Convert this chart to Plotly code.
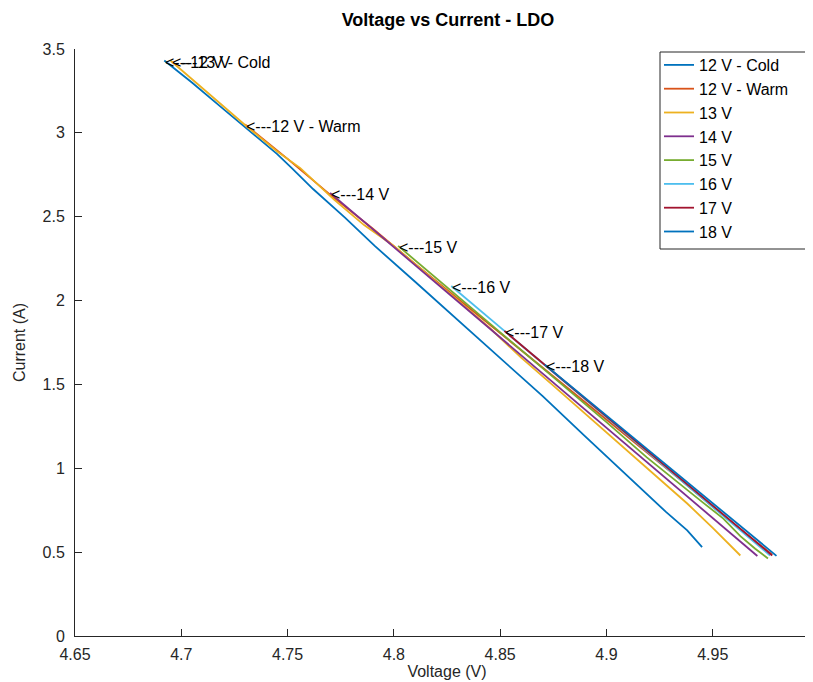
import plotly.graph_objects as go

# ---- data ----
series_names = ["12 V - Cold", "12 V - Warm", "13 V", "14 V", "15 V", "16 V", "17 V", "18 V"]
series_colors = ["#0072BD", "#D95319", "#EDB120", "#7E2F8E", "#77AC30", "#4DBEEE", "#A2142F", "#0072BD"]

v_cold = [4.692, 4.705, 4.720, 4.736, 4.745, 4.752, 4.762, 4.777, 4.791, 4.810, 4.830, 4.850, 4.870, 4.890, 4.901, 4.915, 4.928, 4.938, 4.945]
i_cold = [3.431, 3.300, 3.140, 2.970, 2.875, 2.790, 2.665, 2.495, 2.326, 2.112, 1.885, 1.658, 1.430, 1.190, 1.061, 0.895, 0.740, 0.630, 0.530]

v_warm = [4.730, 4.750, 4.770, 4.790, 4.810, 4.830, 4.850, 4.870, 4.890, 4.910, 4.922, 4.935, 4.950, 4.962, 4.972, 4.978]
i_warm = [3.050, 2.845, 2.632, 2.430, 2.218, 2.012, 1.808, 1.598, 1.392, 1.185, 1.063, 0.930, 0.770, 0.650, 0.545, 0.485]

v_13 = [4.695, 4.712, 4.730, 4.745, 4.756, 4.772, 4.786, 4.800, 4.815, 4.830, 4.845, 4.860, 4.875, 4.890, 4.905, 4.914, 4.925, 4.938, 4.950, 4.958, 4.963]
i_13 = [3.430, 3.244, 3.047, 2.890, 2.790, 2.600, 2.450, 2.326, 2.166, 2.002, 1.838, 1.658, 1.493, 1.327, 1.160, 1.061, 0.935, 0.790, 0.645, 0.545, 0.480]

v_14 = [4.770, 4.790, 4.810, 4.830, 4.850, 4.870, 4.890, 4.905, 4.917, 4.930, 4.942, 4.952, 4.962, 4.968, 4.971]
i_14 = [2.642, 2.427, 2.211, 1.996, 1.780, 1.565, 1.350, 1.188, 1.061, 0.919, 0.790, 0.682, 0.574, 0.510, 0.477]

v_15 = [4.802, 4.820, 4.840, 4.860, 4.880, 4.900, 4.919, 4.932, 4.945, 4.955, 4.963, 4.970, 4.976]
i_15 = [2.326, 2.133, 1.919, 1.704, 1.490, 1.275, 1.065, 0.930, 0.800, 0.700, 0.595, 0.520, 0.462]

v_16 = [4.827, 4.845, 4.865, 4.885, 4.905, 4.922, 4.937, 4.950, 4.962, 4.971, 4.977]
i_16 = [2.087, 1.894, 1.680, 1.466, 1.252, 1.070, 0.909, 0.770, 0.641, 0.545, 0.480]

v_17 = [4.852, 4.870, 4.890, 4.908, 4.923, 4.938, 4.951, 4.963, 4.972, 4.978]
i_17 = [1.819, 1.628, 1.415, 1.224, 1.064, 0.905, 0.767, 0.639, 0.543, 0.480]

v_18 = [4.871, 4.888, 4.905, 4.925, 4.940, 4.953, 4.965, 4.974, 4.980]
i_18 = [1.618, 1.440, 1.262, 1.053, 0.896, 0.760, 0.635, 0.541, 0.478]

voltages = [v_cold, v_warm, v_13, v_14, v_15, v_16, v_17, v_18]
currents = [i_cold, i_warm, i_13, i_14, i_15, i_16, i_17, i_18]

x_tickvals = [4.65, 4.70, 4.75, 4.80, 4.85, 4.90, 4.95, 5.00]
x_ticktext = ["4.65", "4.7", "4.75", "4.8", "4.85", "4.9", "4.95", "5"]
y_tickvals = [0, 0.5, 1, 1.5, 2, 2.5, 3, 3.5]
y_ticktext = ["0", "0.5", "1", "1.5", "2", "2.5", "3", "3.5"]

FONT = "Liberation Sans, Arial, Helvetica, sans-serif"
AXC = "#262626"

# plot area in pixels
L, R, T, B = 67, 811, 41, 628
PW, PH = R - L, B - T


def px_x(p):
    return (p - L) / PW


def px_y(p):
    return (B - p) / PH


fig = go.Figure()
for name, col, vx, iy in zip(series_names, series_colors, voltages, currents):
    fig.add_trace(go.Scatter(x=vx, y=iy, mode="lines", name=name,
                             line=dict(color=col, width=1.8)))

for name, vx, iy in zip(series_names, voltages, currents):
    fig.add_annotation(x=vx[0], y=iy[0], xref="x", yref="y",
                       text="&lt;---" + name, showarrow=False,
                       xanchor="left", yanchor="middle", xshift=-1, yshift=-2,
                       font=dict(family=FONT, size=16, color="#000000"))

# legend frame
fig.add_shape(type="rect", xref="paper", yref="paper",
              x0=px_x(652), x1=px_x(806), y0=px_y(241), y1=px_y(44),
              fillcolor="white", line=dict(color=AXC, width=1), layer="above")

fig.update_layout(
    width=813, height=682,
    margin=dict(l=L, r=813 - R, t=T, b=682 - B, autoexpand=False),
    paper_bgcolor="white", plot_bgcolor="white",
    font=dict(family=FONT, size=16, color=AXC),
    title=dict(text="<b>Voltage vs Current - LDO</b>", x=440 / 813,
               xanchor="center", xref="container", yref="container",
               y=1 - 5 / 682, yanchor="top",
               font=dict(family=FONT, size=18, color="#000000")),
    showlegend=True,
    legend=dict(x=px_x(651), y=px_y(40), xanchor="left", yanchor="top",
                bgcolor="rgba(0,0,0,0)", borderwidth=0,
                font=dict(family=FONT, size=16, color="#000000"),
                itemwidth=30),
)
fig.update_xaxes(range=[4.65, 5.0], tickvals=x_tickvals, ticktext=x_ticktext,
                 ticks="inside", ticklen=7, tickcolor=AXC, showline=True, linecolor=AXC,
                 linewidth=1, showgrid=False, zeroline=False, mirror=False,
                 automargin=False, ticklabeloverflow="allow", ticklabelstandoff=4,
                 title=dict(text="Voltage (V)", standoff=1, font=dict(size=16, color=AXC)),
                 tickfont=dict(size=16, color=AXC))
fig.update_yaxes(range=[0, 3.5], tickvals=y_tickvals, ticktext=y_ticktext,
                 ticks="inside", ticklen=7, tickcolor=AXC, showline=True, linecolor=AXC,
                 linewidth=1, showgrid=False, zeroline=False, mirror=False,
                 automargin=False, ticklabeloverflow="allow", ticklabelstandoff=6,
                 title=dict(text="Current (A)", standoff=12, font=dict(size=16, color=AXC)),
                 tickfont=dict(size=16, color=AXC))

fig.write_html("out.html")
